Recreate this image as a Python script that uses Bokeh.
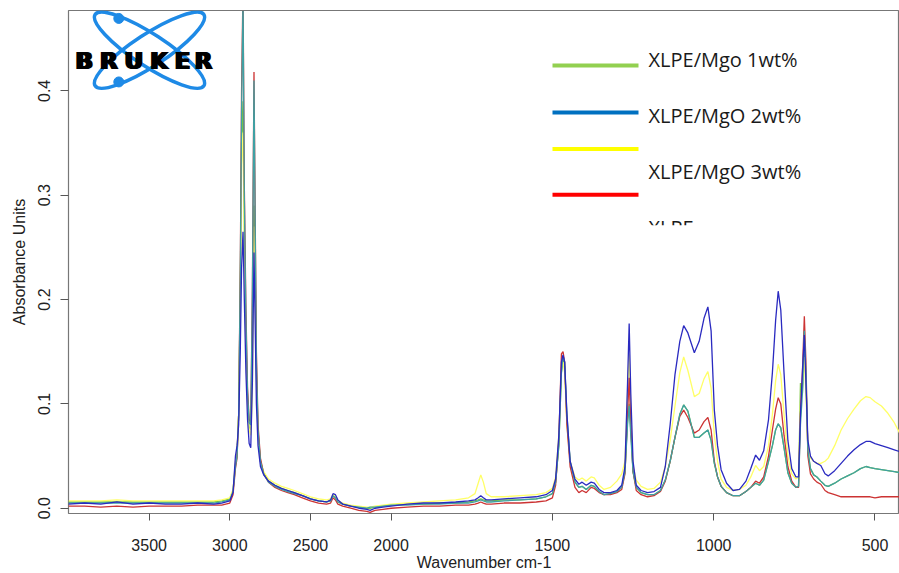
from bokeh.plotting import figure
from bokeh.models import Range1d, FixedTicker, NumeralTickFormatter, BoxAnnotation
from bokeh.core.properties import value
from bokeh.embed import file_html
from bokeh.resources import INLINE

# ---------------- data ----------------
wavenumber = [4000, 3900, 3800, 3700, 3600, 3500, 3400, 3300, 3200, 3100, 3050, 3000,
              2980, 2965, 2955, 2945, 2935, 2927, 2918, 2910, 2900, 2890, 2880, 2870,
              2860, 2850, 2842, 2835, 2825, 2810, 2790, 2760, 2720, 2680, 2640, 2600,
              2550, 2500, 2450, 2400, 2375, 2360, 2345, 2330, 2300, 2250, 2200, 2150,
              2130, 2100, 2050, 2000, 1950, 1900, 1850, 1800, 1760, 1740, 1730, 1722,
              1714, 1705, 1690, 1650, 1600, 1550, 1520, 1500, 1490, 1480, 1472, 1467,
              1462, 1455, 1445, 1430, 1418, 1408, 1395, 1380, 1370, 1355, 1340, 1320,
              1300, 1285, 1275, 1267, 1262, 1257, 1250, 1240, 1225, 1205, 1185, 1165,
              1150, 1135, 1120, 1105, 1093, 1080, 1060, 1045, 1030, 1018, 1008, 998,
              988, 977, 960, 940, 920, 900, 885, 870, 858, 845, 830, 818,
              808, 800, 792, 782, 770, 758, 745, 737, 731, 725, 719, 714,
              708, 700, 690, 680, 668, 655, 645, 625, 605, 585, 565, 545,
              528, 515, 500, 480, 460, 440, 420]

abs_yellow = [.007, .007, .007, .008, .007, .007, .007, .007, .007, .007, .008, .010,
              .018, .045, .055, .090, .200, .330, .360, .250, .150, .100, .075, .070,
              .110, .270, .200, .120, .070, .045, .035, .028, .024, .021, .019, .017,
              .014, .011, .009, .008, .009, .013, .011, .007, .005, .003, .002, .001,
              .001, .002, .003, .004, .005, .006, .007, .008, .010, .014, .024, .032,
              .025, .014, .011, .011, .012, .013, .015, .019, .030, .070, .135, .140,
              .130, .080, .045, .030, .027, .029, .026, .030, .029, .022, .018, .020,
              .026, .033, .045, .110, .148, .090, .040, .027, .021, .018, .019, .025,
              .040, .065, .098, .130, .145, .132, .107, .110, .124, .131, .115, .070,
              .045, .028, .020, .017, .018, .022, .030, .041, .036, .040, .060, .090,
              .122, .138, .128, .090, .050, .033, .028, .030, .100, .120, .145, .110,
              .060, .048, .045, .043, .043, .045, .048, .060, .075, .086, .095, .103,
              .107, .106, .102, .098, .091, .082, .070]

abs_blue = [.004, .005, .004, .006, .004, .005, .004, .004, .005, .004, .005, .007,
            .015, .050, .060, .080, .150, .230, .265, .200, .130, .085, .062, .058,
            .120, .245, .170, .100, .060, .040, .032, .026, .022, .019, .017, .015,
            .012, .009, .007, .006, .008, .014, .013, .008, .004, .002, .000, -.001,
            -.002, .000, .001, .002, .004, .005, .005, .006, .007, .008, .010, .012,
            .010, .008, .008, .009, .010, .011, .013, .017, .028, .070, .140, .147,
            .140, .090, .045, .028, .023, .025, .022, .025, .024, .018, .015, .015,
            .017, .022, .040, .120, .177, .110, .045, .022, .017, .015, .016, .020,
            .040, .080, .128, .160, .175, .168, .149, .160, .182, .193, .170, .094,
            .060, .037, .024, .017, .018, .026, .038, .051, .046, .055, .085, .130,
            .180, .208, .190, .130, .065, .038, .030, .030, .090, .130, .166, .120,
            .065, .050, .045, .043, .041, .033, .031, .036, .043, .050, .056, .061,
            .064, .064, .062, .060, .058, .056, .054]

abs_teal = [.005, .005, .005, .005, .005, .005, .005, .005, .005, .005, .006, .008,
            .016, .040, .050, .090, .220, .380, .490, .300, .180, .110, .082, .080,
            .200, .410, .260, .140, .075, .045, .033, .025, .021, .018, .016, .014,
            .012, .009, .007, .006, .007, .012, .010, .006, .004, .002, .001, .000,
            .001, .001, .002, .003, .003, .004, .004, .005, .005, .006, .007, .008,
            .007, .006, .006, .007, .008, .009, .011, .014, .025, .060, .130, .146,
            .140, .090, .045, .025, .020, .021, .018, .022, .021, .016, .013, .014,
            .016, .020, .035, .080, .098, .070, .035, .020, .015, .013, .013, .017,
            .027, .045, .068, .090, .099, .093, .068, .068, .072, .075, .065, .043,
            .030, .021, .015, .012, .012, .016, .020, .024, .022, .027, .045, .060,
            .075, .081, .077, .058, .034, .024, .020, .021, .080, .110, .170, .130,
            .055, .038, .032, .030, .026, .022, .021, .024, .028, .031, .034, .038,
            .040, .039, .038, .037, .036, .035, .034]

abs_red = [.002, .002, .001, .002, .001, .002, .002, .002, .003, .003, .003, .005,
           .013, .038, .048, .090, .230, .400, .500, .310, .190, .115, .085, .082,
           .210, .418, .270, .150, .080, .048, .033, .025, .020, .017, .015, .013,
           .010, .007, .005, .004, .005, .010, .008, .004, .002, .000, -.002, -.003,
           -.004, -.002, -.001, .000, .001, .002, .002, .003, .003, .004, .005, .006,
           .005, .004, .004, .005, .005, .006, .007, .010, .022, .065, .148, .150,
           .140, .080, .040, .020, .015, .017, .015, .020, .019, .015, .013, .013,
           .015, .018, .033, .090, .125, .080, .035, .017, .013, .011, .012, .016,
           .026, .045, .068, .088, .094, .087, .072, .075, .083, .087, .075, .045,
           .030, .021, .015, .012, .012, .016, .020, .026, .024, .030, .050, .075,
           .095, .106, .100, .070, .040, .026, .020, .020, .090, .130, .184, .140,
           .050, .033, .028, .025, .023, .017, .015, .013, .011, .011, .011, .011,
           .011, .011, .010, .011, .011, .011, .011]

abs_green = [.006, .006, .006, .006, .006, .006, .006, .006, .006, .006, .007, .009,
             .017, .042, .052, .090, .210, .350, .390, .270, .160, .105, .078, .075,
             .160, .290, .220, .130, .072, .045, .034, .026, .022, .019, .017, .015,
             .012, .009, .007, .006, .007, .012, .010, .006, .004, .002, .001, .000,
             .000, .001, .002, .003, .004, .004, .005, .005, .006, .007, .008, .009,
             .008, .007, .007, .008, .008, .009, .011, .014, .025, .060, .130, .143,
             .135, .085, .045, .025, .020, .021, .018, .022, .021, .016, .013, .014,
             .016, .020, .035, .085, .100, .075, .035, .020, .015, .013, .013, .017,
             .027, .045, .068, .090, .099, .093, .068, .068, .072, .075, .065, .043,
             .030, .021, .015, .012, .012, .016, .020, .024, .022, .027, .045, .060,
             .075, .081, .077, .058, .034, .024, .020, .021, .120, .110, .150, .120,
             .055, .038, .032, .030, .026, .022, .021, .024, .028, .031, .034, .038,
             .040, .039, .038, .037, .036, .035, .034]

x_tick_values = [3500, 3000, 2500, 2000, 1500, 1000, 500]
y_tick_values = [0.0, 0.1, 0.2, 0.3, 0.4]
legend_labels = ["XLPE/Mgo 1wt%", "XLPE/MgO 2wt%", "XLPE/MgO 3wt%", "XLPE"]
legend_colors = ["#92D050", "#0070C0", "#FFFF00", "#FF0000"]
logo_letters = ["B", "R", "U", "K", "E", "R"]

# ---------------- scale: OPUS-style axis, compressed by 2 above 2000 cm-1 ----------------
def axis_pos(wn):
    return wn if wn <= 2000 else 2000 + (wn - 2000) / 2.0

x_vals = [axis_pos(w) for w in wavenumber]

FRAME_L, FRAME_T, FRAME_W, FRAME_H = 68, 10, 831, 507
U_LEFT, U_RIGHT = 3000.0, 424.0
Y_BOTTOM, Y_TOP = -0.00504, 0.4770
PX_PER_U = FRAME_W / (U_LEFT - U_RIGHT)
PX_PER_Y = FRAME_H / (Y_TOP - Y_BOTTOM)

def ux(page_x):          # page pixel -> axis coordinate (layout helper)
    return U_LEFT - (page_x - FRAME_L) / PX_PER_U

def vy(page_y):          # page pixel -> absorbance coordinate (layout helper)
    return Y_TOP - (page_y - FRAME_T) / PX_PER_Y

FONT = "Liberation Sans"
TEXT_COLOR = "#222222"
AXIS_COLOR = "#555555"

p = figure(width=899, height=573, output_backend="svg", toolbar_location=None,
           x_range=Range1d(U_LEFT, U_RIGHT), y_range=Range1d(Y_BOTTOM, Y_TOP),
           min_border_left=FRAME_L, min_border_right=0, min_border_top=FRAME_T,
           min_border_bottom=573 - FRAME_T - FRAME_H)
p.background_fill_color = "white"
p.border_fill_color = "white"
p.outline_line_color = "#777777"
p.outline_line_width = 1.2
p.xgrid.visible = False
p.ygrid.visible = False

# x axis
p.xaxis.ticker = FixedTicker(ticks=[int(axis_pos(t)) for t in x_tick_values])
p.xaxis.major_label_overrides = {int(axis_pos(t)): str(t) for t in x_tick_values}
p.xaxis.axis_line_color = None
p.xaxis.major_tick_in = 0
p.xaxis.major_tick_out = 7
p.xaxis.major_tick_line_color = AXIS_COLOR
p.xaxis.minor_tick_line_color = None
p.xaxis.major_label_standoff = 18
p.xaxis.major_label_text_font = FONT
p.xaxis.major_label_text_font_size = "16px"
p.xaxis.major_label_text_color = TEXT_COLOR
p.xaxis.axis_label = "Wavenumber cm-1"
p.xaxis.axis_label_standoff = 0
p.xaxis.axis_label_text_font = FONT
p.xaxis.axis_label_text_font_size = "16px"
p.xaxis.axis_label_text_font_style = "normal"
p.xaxis.axis_label_text_color = TEXT_COLOR

# y axis
p.yaxis.ticker = FixedTicker(ticks=y_tick_values)
p.yaxis.formatter = NumeralTickFormatter(format="0.0")
p.yaxis.major_label_orientation = "vertical"
p.yaxis.axis_line_color = None
p.yaxis.major_tick_in = 0
p.yaxis.major_tick_out = 8
p.yaxis.major_tick_line_color = AXIS_COLOR
p.yaxis.minor_tick_line_color = None
p.yaxis.major_label_standoff = 10
p.yaxis.major_label_text_font = FONT
p.yaxis.major_label_text_font_size = "16px"
p.yaxis.major_label_text_color = TEXT_COLOR
p.yaxis.axis_label = "Absorbance Units"
p.yaxis.axis_label_standoff = 8
p.yaxis.axis_label_text_font = FONT
p.yaxis.axis_label_text_font_size = "16px"
p.yaxis.axis_label_text_font_style = "normal"
p.yaxis.axis_label_text_color = TEXT_COLOR

# spectra
series = [
    (abs_green, "#7CC83C"),
    (abs_yellow, "#FFFF66"),
    (abs_red, "#CC3333"),
    (abs_teal, "#3FA0A3"),
    (abs_blue, "#2A2AC0"),
]
for vals, col in series:
    p.line(x_vals, vals, line_color=col, line_width=1.3)

# Bruker logo
LOGO_BLUE = "#1E8AE6"
p.ellipse(x=[ux(149), ux(149)], y=[vy(50), vy(50)], width=[130, 130], height=[32, 32],
          angle=[0.58, -0.58], width_units="screen", height_units="screen",
          fill_color=None, line_color=LOGO_BLUE, line_width=3.5)
p.scatter(x=[ux(118.3), ux(118.3)], y=[vy(18), vy(82)], size=10, color=LOGO_BLUE)
letter_x = [ux(c) for c in (83.7, 108.3, 133.3, 158.5, 182.0, 203.0)]
for dx in (-1.2, 0, 1.2):
    p.text(x=letter_x, y=[vy(61)] * 6, text=logo_letters, x_offset=dx,
           text_font=value("DejaVu Sans"), text_font_style="bold", text_font_size="23px",
           text_align="center", text_baseline="alphabetic", text_color="black")

# pasted legend
legend_line_y = [vy(65.5), vy(112.7), vy(149.7), vy(195.7)]
p.segment(x0=[ux(552)] * 4, x1=[ux(638)] * 4, y0=legend_line_y, y1=legend_line_y,
          line_color=legend_colors, line_width=4)
p.text(x=[ux(648)] * 4, y=[vy(59.5), vy(116.3), vy(172.7), vy(228.8)], text=legend_labels,
       text_font=value("Open Sans"), text_font_size="20px", text_baseline="alphabetic",
       text_color="#1a1a1a")
p.add_layout(BoxAnnotation(left=ux(640), right=ux(720), bottom=vy(250), top=vy(226.5),
                           fill_color="white", fill_alpha=1.0, line_color=None))

open("out.html", "w").write(file_html(p, INLINE))
